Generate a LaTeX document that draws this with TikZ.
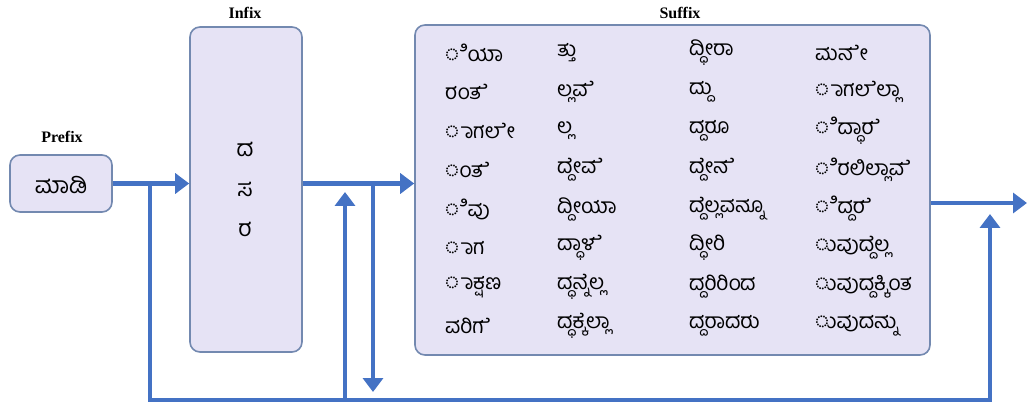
\documentclass[tikz,border=0pt]{standalone}
\usepackage{fontspec}
\setmainfont{Liberation Serif}
\newfontfamily\kan[Script=Kannada]{Hind Mysuru}
\newcommand\zw{^^^^200d}
\newcommand\brk{\kern0pt\relax}
\newcommand\pe[2]{\mbox{#1\zw ೆ}\mbox{#2}}
\usetikzlibrary{arrows.meta}
\definecolor{boxfill}{HTML}{E6E3F5}
\definecolor{boxline}{HTML}{7389B0}
\definecolor{arrblue}{HTML}{4472C4}
\tikzset{
  blk/.style={draw=boxline, fill=boxfill, line width=1.6pt, rounded corners=10pt, inner sep=0pt},
  lbl/.style={font=\bfseries\fontsize{16}{18}\selectfont, inner sep=0pt},
  kn/.style={font=\kan\fontsize{21}{24}\selectfont, anchor=west, inner sep=0pt},
  kc/.style={font=\kan\fontsize{23}{26}\selectfont, inner sep=0pt},
  flow/.style={draw=arrblue, line width=4.5pt},
  arr/.style={flow, -{Triangle[length=14pt,width=20pt]}},
}
\begin{document}
\begin{tikzpicture}[x=1pt,y=-1pt]
\useasboundingbox (0,0) rectangle (1029,409);
% boxes
\node[blk, minimum width=102pt, minimum height=57pt] (prefix) at (61,183.5) {};
\node[kc] (pre) at (61,185) {ಮಾಡಿ};
\node[lbl] (prefixl) at (62,137) {Prefix};
\node[blk, minimum width=112pt, minimum height=325pt] (infix) at (246,189.5) {};
\node[lbl] (infixl) at (245,13) {Infix};
\node[kc] (i1) at (245,149) {ದ};
\node[kc] (i2) at (245,189) {ಸ};
\node[kc] (i3) at (245,229) {ರ};
\node[blk, minimum width=515pt, minimum height=330pt] (suffix) at (672.5,190) {};
\node[lbl] (suffixl) at (680,13) {Suffix};
% column 1
\node[kn] (a1) at (445,53) {ಿಯಾ};
\node[kn] (a2) at (445,92) {ರಂತ\zw ೆ};
\node[kn] (a3) at (445,131) {ಾಗಲ\zw ೇ};
\node[kn] (a4) at (445,170) {ಂತ\zw ೆ};
\node[kn] (a5) at (445,209) {ಿವು};
\node[kn] (a6) at (445,248) {ಾಗ};
\node[kn] (a7) at (445,287) {ಾಕ್ಷಣ};
\node[kn] (a8) at (445,326) {ವರಿಗ\zw ೆ};
% column 2
\node[kn] (b1) at (557,53) {ತ್ತು};
\node[kn] (b2) at (557,92) {ಲ್ಲವ\zw ೆ};
\node[kn] (b3) at (557,131) {ಲ್ಲ};
\node[kn] (b4) at (557,170) {ದ್ದ\zw ೇ\brk ವ\zw ೆ};
\node[kn] (b5) at (557,209) {ದ್ದೀಯಾ};
\node[kn] (b6) at (557,248) {ದ್ಧಾಳ\zw ೆ};
\node[kn] (b7) at (557,287) {\pe{ದ್ಧನ್ನ}{ಲ್ಲ}};
\node[kn] (b8) at (557,326) {\pe{ದ್ಧಕ್ಕ}{ಲ್ಲಾ}};
% column 3
\node[kn] (c1) at (689,53) {ದ್ಧೀರಾ};
\node[kn] (c2) at (689,92) {ದ್ದು};
\node[kn] (c3) at (689,131) {ದ್ದರೂ};
\node[kn] (c4) at (689,170) {ದ್ದ\zw ೇ\brk ನ\zw ೆ};
\node[kn] (c5) at (689,209) {\pe{ದ್ದ}{ಲ್ಲವನ್ನೂ}};
\node[kn] (c6) at (689,248) {ದ್ಧೀರಿ};
\node[kn] (c7) at (689,287) {ದ್ದರಿರಿಂದ};
\node[kn] (c8) at (689,326) {ದ್ದರಾದರು};
% column 4
\node[kn] (d1) at (815,53) {ಮನ\zw ೇ};
\node[kn] (d2) at (815,92) {\pe{ಾಗಲ}{ಲ್ಲಾ}};
\node[kn] (d3) at (815,131) {ಿದ್ಧಾರ\zw ೆ};
\node[kn] (d4) at (815,170) {ಿರಲಿಲ್ಲಾವ\zw ೆ};
\node[kn] (d5) at (815,209) {ಿದ್ದರ\zw ೆ};
\node[kn] (d6) at (815,248) {\pe{ುವುದ್ದ}{ಲ್ಲ}};
\node[kn] (d7) at (815,287) {ುವುದ್ದಕ್ಕಿಂತ};
\node[kn] (d8) at (815,326) {ುವುದನ್ನು};
% connector points
\coordinate (j1) at (150,183);
\coordinate (bl) at (150,400);
\coordinate (br) at (990,400);
\coordinate (outin) at (990,214);
\coordinate (out) at (1027,203);
\coordinate (upb) at (345,400);
\coordinate (upt) at (345,192);
\coordinate (dnt) at (373,183);
\coordinate (dnb) at (373,392);
% arrows
\draw[arr] (prefix.east) -- (prefix.east -| infix.west);
\draw[arr] (infix.east |- prefix.east) -- (suffix.west |- prefix.east);
\draw[arr] (suffix.east |- out) -- (out);
\draw[flow, line cap=rect] (j1) -- (bl) -- (br);
\draw[arr] (br) -- (outin);
\draw[arr] (upb) -- (upt);
\draw[arr] (dnt) -- (dnb);
\end{tikzpicture}
\end{document}
